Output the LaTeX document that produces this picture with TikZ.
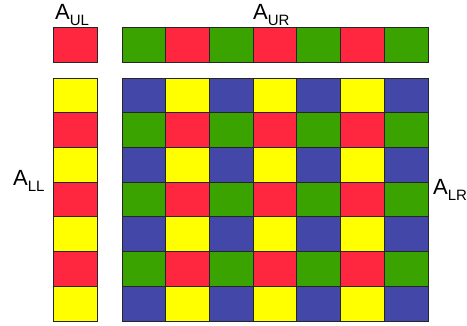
\documentclass[tikz,border=0pt]{standalone}
\usepackage{fontspec}
\setmainfont{Liberation Sans}
\definecolor{cred}{RGB}{255,38,64}
\definecolor{cyel}{RGB}{255,255,0}
\definecolor{cgrn}{RGB}{58,163,0}
\definecolor{cblu}{RGB}{67,72,168}
\newcommand{\albl}[1]{A\raisebox{-6pt}{\fontsize{15}{15}\selectfont #1}}
\begin{document}
\begin{tikzpicture}[x=1pt,y=-1pt,
  cell/.style={draw=black!85, line width=0.8pt},
  lbl/.style={font=\fontsize{22}{22}\selectfont, inner sep=0pt, anchor=base west}]
\useasboundingbox (0,0) rectangle (467,325);
% upper left
\draw[cell, fill=cred] (53,27) rectangle (97,62);
% upper right
\foreach \i in {0,...,6}{
  \pgfmathsetmacro{\xa}{122+43.7*\i}
  \pgfmathsetmacro{\xb}{122+43.7*(\i+1)}
  \ifodd\i \def\cc{cred}\else\def\cc{cgrn}\fi
  \draw[cell, fill=\cc] (\xa,27) rectangle (\xb,62);
}
% lower left
\foreach \j in {0,...,6}{
  \pgfmathsetmacro{\ya}{78+34.7*\j}
  \pgfmathsetmacro{\yb}{78+34.7*(\j+1)}
  \ifodd\j \def\cc{cred}\else\def\cc{cyel}\fi
  \draw[cell, fill=\cc] (53,\ya) rectangle (97,\yb);
}
% lower right
\foreach \j in {0,...,6}{
  \foreach \i in {0,...,6}{
    \pgfmathsetmacro{\xa}{122+43.7*\i}
    \pgfmathsetmacro{\xb}{122+43.7*(\i+1)}
    \pgfmathsetmacro{\ya}{78+34.7*\j}
    \pgfmathsetmacro{\yb}{78+34.7*(\j+1)}
    \ifodd\j
      \ifodd\i \def\cc{cred}\else\def\cc{cgrn}\fi
    \else
      \ifodd\i \def\cc{cyel}\else\def\cc{cblu}\fi
    \fi
    \draw[cell, fill=\cc] (\xa,\ya) rectangle (\xb,\yb);
  }
}
\node[lbl] (aul) at (55,19) {\albl{UL}};
\node[lbl] (aur) at (253,19) {\albl{UR}};
\node[lbl] (all) at (13,185) {\albl{LL}};
\node[lbl] (alr) at (433,194) {\albl{LR}};
\end{tikzpicture}
\end{document}
